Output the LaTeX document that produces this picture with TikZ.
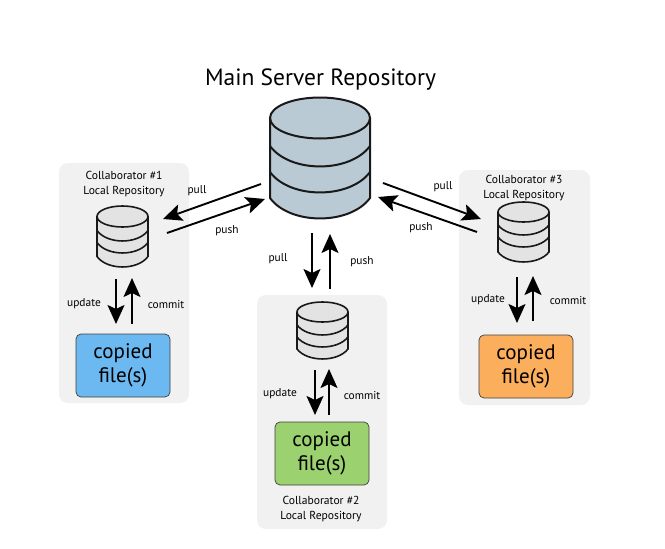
\documentclass[tikz,border=0pt]{standalone}
\usepackage{fontspec}
\setmainfont{PT Sans}
\usetikzlibrary{arrows.meta}
\definecolor{panelgray}{HTML}{F1F1F1}
\definecolor{mainfill}{HTML}{B9CAD4}
\definecolor{localfill}{HTML}{E3E3E3}
\definecolor{fileblue}{HTML}{6CB8F0}
\definecolor{filegreen}{HTML}{9BD16F}
\definecolor{fileorange}{HTML}{FBAE5B}
\tikzset{
  x=1pt,y=-1pt,
  panel/.style={fill=panelgray,draw=none,rounded corners=9pt},
  filebox/.style={draw=black!75,line width=0.7pt,rounded corners=5pt,minimum width=94pt,minimum height=63pt,align=center,inner sep=0pt,
    font=\fontsize{21}{24.5}\selectfont},
  captiontext/.style={font=\fontsize{11.6}{15}\selectfont,align=center,inner sep=0pt,yshift=-1.5pt},
  lbl/.style={font=\fontsize{11.4}{12}\selectfont,inner sep=0pt,yshift=-1pt},
  flow/.style={line width=1.9pt,-{Stealth[length=19pt,width=17pt,inset=4pt]}},
  cylline/.style={line width=1.6pt,draw=black!90},
  bigline/.style={line width=2pt,draw=black!90}
}
% cx, top-centre y, half width, ry, band1, band2, body height, style, fill
\newcommand{\drumshape}[9]{%
  \fill[#9] (#1-#3,#2) -- (#1-#3,#2+#7) .. controls (#1-#3*0.6,#2+#7+#4*1.33) and (#1+#3*0.6,#2+#7+#4*1.33) .. (#1+#3,#2+#7) -- (#1+#3,#2) -- cycle;
  \fill[#9] (#1,#2) ellipse[x radius=#3,y radius=#4];
  \draw[#8] (#1-#3,#2) -- (#1-#3,#2+#7) .. controls (#1-#3*0.6,#2+#7+#4*1.33) and (#1+#3*0.6,#2+#7+#4*1.33) .. (#1+#3,#2+#7) -- (#1+#3,#2);
  \draw[#8] (#1,#2) ellipse[x radius=#3,y radius=#4];
  \draw[#8] (#1-#3,#2+#5) .. controls (#1-#3*0.6,#2+#5+#4*1.33) and (#1+#3*0.6,#2+#5+#4*1.33) .. (#1+#3,#2+#5);
  \draw[#8] (#1-#3,#2+#6) .. controls (#1-#3*0.6,#2+#6+#4*1.33) and (#1+#3*0.6,#2+#6+#4*1.33) .. (#1+#3,#2+#6);
}
\begin{document}
\begin{tikzpicture}
\useasboundingbox (0,0) rectangle (665,549);
\fill[white] (0,0) rectangle (665,549);
% panels
\fill[panel] (59,163) rectangle (189,403);
\fill[panel] (257,295) rectangle (387,529);
\fill[panel] (459,170) rectangle (590,405);
% title
\node[inner sep=0pt,font=\fontsize{23.5}{28}\selectfont] (title) at (320.5,80) {Main Server Repository};
% drums
\drumshape{320}{118}{50}{20.5}{28}{54}{80}{bigline}{mainfill}
\drumshape{122.5}{216.5}{25.5}{10.5}{14}{26}{40}{cylline}{localfill}
\drumshape{322.5}{312}{25.5}{10}{13}{25}{37}{cylline}{localfill}
\drumshape{523.5}{212}{25.5}{10}{13}{25}{40}{cylline}{localfill}
% file boxes
\node[filebox,fill=fileblue] (file1) at (123,365.5) {copied\\file(s)};
\node[filebox,fill=filegreen] (file2) at (322,453.5) {copied\\file(s)};
\node[filebox,fill=fileorange] (file3) at (526,366.5) {copied\\file(s)};
% captions
\node[captiontext] (col1) at (124,182.5) {Collaborator \#1\\Local Repository};
\node[captiontext] (col3) at (524,186.5) {Collaborator \#3\\Local Repository};
\node[captiontext] (col2) at (321,507.5) {Collaborator \#2\\Local Repository};
% connector ends
\coordinate (a1s) at (261,184); \coordinate (a1e) at (163,219);
\coordinate (b1s) at (167,233); \coordinate (b1e) at (265,199);
\coordinate (u1s) at (116,279); \coordinate (u1e) at (116,324);
\coordinate (c1s) at (132,324); \coordinate (c1e) at (132,278);
\coordinate (a2s) at (312,233); \coordinate (a2e) at (312,288);
\coordinate (b2s) at (330,289); \coordinate (b2e) at (330,234);
\coordinate (u2s) at (315,370); \coordinate (u2e) at (315,415);
\coordinate (c2s) at (329,415); \coordinate (c2e) at (329,369);
\coordinate (a3s) at (383,183); \coordinate (a3e) at (481,219);
\coordinate (b3s) at (477,232); \coordinate (b3e) at (378,197);
\coordinate (u3s) at (517,277); \coordinate (u3e) at (517,323);
\coordinate (c3s) at (533,321); \coordinate (c3e) at (533,276);
\foreach \p/\q in {a1s/a1e,b1s/b1e,u1s/u1e,c1s/c1e,a2s/a2e,b2s/b2e,u2s/u2e,c2s/c2e,a3s/a3e,b3s/b3e,u3s/u3e,c3s/c3e}
  \draw[flow] (\p) -- (\q);
% labels
\node[lbl] (l1) at (197,190) {pull};
\node[lbl] (l2) at (227,230) {push};
\node[lbl] (l3) at (84,303) {update};
\node[lbl] (l4) at (166,304) {commit};
\node[lbl] (l5) at (278,258) {pull};
\node[lbl] (l6) at (362,261) {push};
\node[lbl] (l7) at (443,186) {pull};
\node[lbl] (l8) at (421,227) {push};
\node[lbl] (l9) at (488,299) {update};
\node[lbl] (l10) at (568,300) {commit};
\node[lbl] (l11) at (280,393) {update};
\node[lbl] (l12) at (362,395) {commit};
\end{tikzpicture}
\end{document}
